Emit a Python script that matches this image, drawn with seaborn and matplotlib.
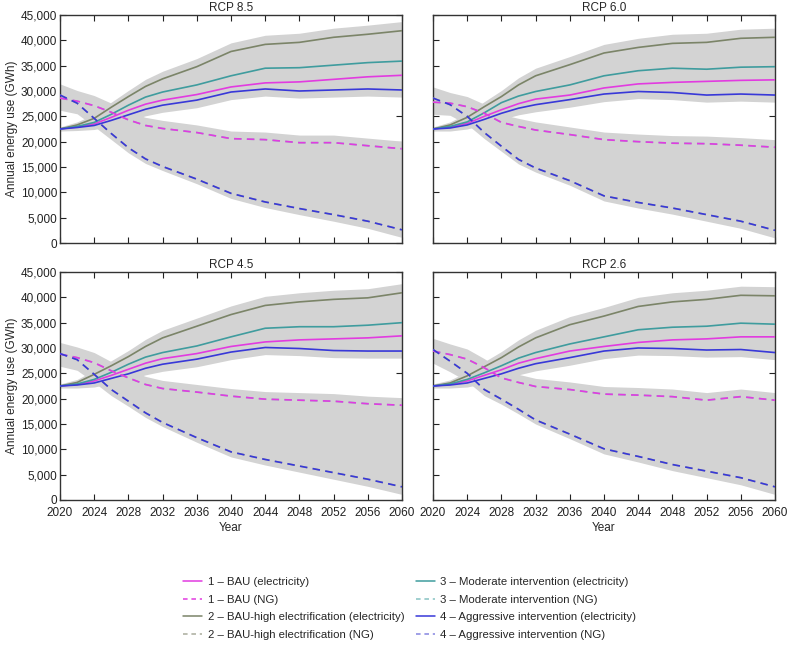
import numpy as np
import pandas as pd
import matplotlib
matplotlib.use("Agg")
import matplotlib.pyplot as plt
from matplotlib.ticker import FuncFormatter, MultipleLocator
from matplotlib.lines import Line2D
import seaborn as sns

# ---------------- data (GWh, thousands) ----------------
years = [2020, 2022, 2024, 2026, 2028, 2030, 2032, 2036, 2040, 2044, 2048, 2052, 2056, 2060]
panels = ["RCP 8.5", "RCP 6.0", "RCP 4.5", "RCP 2.6"]

# RCP 8.5
r85_bau_el  = [22.5, 22.9, 23.5, 24.8, 26.2, 27.4, 28.2, 29.3, 30.8, 31.6, 31.8, 32.3, 32.8, 33.1]
r85_high_el = [22.5, 23.3, 24.6, 26.8, 28.9, 30.9, 32.4, 34.8, 37.8, 39.2, 39.6, 40.6, 41.2, 41.9]
r85_mod_el  = [22.5, 23.0, 23.8, 25.4, 27.2, 28.8, 29.8, 31.2, 33.0, 34.5, 34.6, 35.1, 35.6, 35.9]
r85_agg_el  = [22.5, 22.8, 23.2, 24.2, 25.3, 26.4, 27.2, 28.2, 29.8, 30.4, 30.0, 30.2, 30.4, 30.2]
r85_bau_ng  = [28.6, 28.0, 27.1, 25.8, 24.3, 23.2, 22.6, 21.8, 20.6, 20.4, 19.8, 19.8, 19.2, 18.6]
r85_agg_ng  = [29.2, 27.6, 24.6, 21.6, 18.8, 16.6, 15.1, 12.6, 9.8, 8.1, 6.8, 5.6, 4.3, 2.6]

# RCP 6.0
r60_bau_el  = [22.5, 22.9, 23.6, 25.0, 26.3, 27.5, 28.4, 29.2, 30.6, 31.4, 31.7, 31.9, 32.1, 32.2]
r60_high_el = [22.5, 23.3, 24.8, 26.9, 28.9, 31.2, 33.0, 35.2, 37.5, 38.6, 39.4, 39.6, 40.4, 40.6]
r60_mod_el  = [22.5, 23.0, 23.9, 25.7, 27.7, 29.0, 29.9, 31.2, 33.0, 34.0, 34.5, 34.3, 34.7, 34.8]
r60_agg_el  = [22.5, 22.7, 23.3, 24.4, 25.6, 26.6, 27.3, 28.3, 29.4, 29.9, 29.7, 29.2, 29.4, 29.2]
r60_bau_ng  = [27.8, 27.6, 26.9, 25.6, 23.8, 23.0, 22.3, 21.4, 20.4, 20.0, 19.7, 19.6, 19.3, 18.9]
r60_agg_ng  = [28.6, 27.3, 25.0, 21.8, 19.1, 16.5, 14.8, 12.3, 9.3, 8.0, 6.9, 5.6, 4.3, 2.5]

# RCP 4.5
r45_bau_el  = [22.5, 22.8, 23.5, 24.6, 25.8, 27.0, 27.9, 28.9, 30.3, 31.2, 31.6, 31.8, 32.0, 32.4]
r45_high_el = [22.5, 23.2, 24.8, 26.5, 28.3, 30.3, 32.0, 34.3, 36.6, 38.4, 39.1, 39.6, 39.9, 40.9]
r45_mod_el  = [22.5, 22.9, 23.8, 25.2, 26.8, 28.2, 29.1, 30.4, 32.2, 33.9, 34.2, 34.2, 34.5, 35.0]
r45_agg_el  = [22.5, 22.7, 23.1, 24.0, 24.9, 26.0, 26.8, 27.8, 29.2, 30.1, 29.9, 29.5, 29.4, 29.4]
r45_bau_ng  = [28.8, 28.1, 27.1, 25.5, 24.1, 22.8, 22.0, 21.3, 20.5, 19.9, 19.7, 19.5, 19.0, 18.7]
r45_agg_ng  = [28.9, 27.7, 24.8, 21.8, 19.5, 17.2, 15.3, 12.3, 9.5, 8.0, 6.7, 5.4, 4.1, 2.6]

# RCP 2.6
r26_bau_el  = [22.5, 22.8, 23.5, 24.6, 25.7, 27.0, 27.9, 29.4, 30.3, 31.1, 31.6, 31.8, 32.2, 32.2]
r26_high_el = [22.5, 23.1, 24.5, 26.3, 28.1, 30.2, 32.0, 34.6, 36.3, 38.2, 39.1, 39.6, 40.4, 40.3]
r26_mod_el  = [22.5, 22.9, 23.8, 25.1, 26.5, 28.0, 29.1, 30.8, 32.2, 33.6, 34.1, 34.3, 34.9, 34.7]
r26_agg_el  = [22.5, 22.7, 23.1, 24.0, 24.9, 26.0, 26.9, 28.1, 29.4, 30.0, 29.9, 29.6, 29.7, 29.1]
r26_bau_ng  = [29.4, 28.7, 27.8, 26.1, 24.1, 23.2, 22.4, 21.8, 20.9, 20.7, 20.4, 19.7, 20.4, 19.7]
r26_agg_ng  = [29.7, 27.4, 25.0, 21.8, 19.9, 17.9, 15.8, 13.0, 10.1, 8.6, 7.0, 5.7, 4.4, 2.6]

# uncertainty band margins around the scenario envelopes (thousand GWh)
el_pad_low  = [0.4, 0.6, 0.8, 1.0, 1.2, 1.3, 1.4, 1.5, 1.5, 1.4, 1.4, 1.4, 1.4, 1.4]
el_pad_high = [0.4, 0.6, 0.8, 1.0, 1.2, 1.4, 1.5, 1.6, 1.7, 1.8, 1.8, 1.8, 1.8, 1.8]
ng_pad_low  = [2.4, 2.1, 1.6, 1.2, 1.0, 0.9, 0.8, 0.9, 1.0, 1.1, 1.2, 1.3, 1.4, 1.5]
ng_pad_high = [2.2, 2.1, 2.0, 1.8, 1.6, 1.6, 1.6, 1.5, 1.5, 1.5, 1.5, 1.5, 1.5, 1.5]

scenario_labels = [
    "1 – BAU (electricity)", "1 – BAU (NG)",
    "2 – BAU-high electrification (electricity)", "2 – BAU-high electrification (NG)",
    "3 – Moderate intervention (electricity)", "3 – Moderate intervention (NG)",
    "4 – Aggressive intervention (electricity)", "4 – Aggressive intervention (NG)",
]

panel_data = {
    "RCP 8.5": dict(bau_el=r85_bau_el, high_el=r85_high_el, mod_el=r85_mod_el, agg_el=r85_agg_el,
                    bau_ng=r85_bau_ng, agg_ng=r85_agg_ng),
    "RCP 6.0": dict(bau_el=r60_bau_el, high_el=r60_high_el, mod_el=r60_mod_el, agg_el=r60_agg_el,
                    bau_ng=r60_bau_ng, agg_ng=r60_agg_ng),
    "RCP 4.5": dict(bau_el=r45_bau_el, high_el=r45_high_el, mod_el=r45_mod_el, agg_el=r45_agg_el,
                    bau_ng=r45_bau_ng, agg_ng=r45_agg_ng),
    "RCP 2.6": dict(bau_el=r26_bau_el, high_el=r26_high_el, mod_el=r26_mod_el, agg_el=r26_agg_el,
                    bau_ng=r26_bau_ng, agg_ng=r26_agg_ng),
}

# ---------------- style ----------------
sns.set_theme(style="ticks")
plt.rcParams["font.family"] = ["Liberation Sans", "DejaVu Sans"]
plt.rcParams["axes.edgecolor"] = "#333333"
plt.rcParams["axes.linewidth"] = 1.0

C_PINK = "#e23be0"
C_OLIVE = "#7b8468"
C_TEAL = "#3f9c9e"
C_BLUE = "#3838d8"
C_BAND = "#d3d3d3"
DASH = (4.5, 3.2)
LW = 1.2

series_style = [
    # key, color, dashed
    ("high_ng", "#a9ac9c", True),
    ("mod_ng", "#86c2c2", True),
    ("bau_el", C_PINK, False),
    ("high_el", C_OLIVE, False),
    ("mod_el", C_TEAL, False),
    ("agg_el", C_BLUE, False),
    ("bau_ng", C_PINK, True),
    ("agg_ng", C_BLUE, True),
]

fig = plt.figure(figsize=(7.88, 6.46), dpi=100)
W, H = 788, 646
boxes = [(60, 15), (433, 15), (60, 272), (433, 272)]
aw, ah = 342, 228

yr = np.array(years)
for i, name in enumerate(panels):
    x0, y0 = boxes[i]
    ax = fig.add_axes([x0 / W, 1 - (y0 + ah) / H, aw / W, ah / H])
    d = panel_data[name]
    el = np.array([d["bau_el"], d["high_el"], d["mod_el"], d["agg_el"]]) * 1000
    ng = np.array([d["bau_ng"], d["agg_ng"]]) * 1000
    ax.fill_between(yr, el.min(0) - np.array(el_pad_low) * 1000,
                    el.max(0) + np.array(el_pad_high) * 1000, color=C_BAND, lw=0, zorder=1)
    ax.fill_between(yr, ng.min(0) - np.array(ng_pad_low) * 1000,
                    ng.max(0) + np.array(ng_pad_high) * 1000, color=C_BAND, lw=0, zorder=1)

    # NG series of scenarios 2 and 3 coincide with the plotted NG curves (hidden underneath)
    vals = dict(d)
    vals["high_ng"] = d["agg_ng"]
    vals["mod_ng"] = d["bau_ng"]
    for key, col, dashed in series_style:
        df = pd.DataFrame({"Year": years, "v": np.array(vals[key]) * 1000})
        sns.lineplot(data=df, x="Year", y="v", ax=ax, color=col, lw=LW,
                     dashes=False, zorder=3)
        if dashed:
            ax.lines[-1].set_dashes(DASH)

    ax.set_xlim(2020, 2060)
    ax.set_ylim(0, 45000)
    ax.xaxis.set_major_locator(MultipleLocator(4))
    ax.yaxis.set_major_locator(MultipleLocator(5000))
    ax.yaxis.set_major_formatter(FuncFormatter(lambda v, p: f"{int(v):,}"))
    ax.tick_params(direction="in", top=True, right=True, length=4, width=0.8,
                   labelsize=8.5, colors="#222222")
    ax.tick_params(axis="y", pad=2)
    ax.tick_params(axis="x", pad=5)
    ax.set_title(name, fontsize=8.5, pad=3)
    if i % 2 == 0:
        ax.set_ylabel("Annual energy use (GWh)", fontsize=8.5, labelpad=2)
    else:
        ax.set_ylabel("")
        ax.tick_params(labelleft=False)
    if i >= 2:
        ax.set_xlabel("Year", fontsize=8.5, labelpad=2)
    else:
        ax.set_xlabel("")
        ax.tick_params(labelbottom=False)
    for s in ax.spines.values():
        s.set_visible(True)

# ---------------- legend ----------------
leg_colors = [C_PINK, C_PINK, C_OLIVE, "#a9ac9c", C_TEAL, "#86c2c2", C_BLUE, "#8585e0"]
handles = []
for k, lab in enumerate(scenario_labels):
    h = Line2D([0], [0], color=leg_colors[k], lw=1.1)
    if k % 2 == 1:
        h.set_dashes((3, 2.5))
    handles.append(h)
fig.legend(handles, scenario_labels, ncol=2, frameon=False, fontsize=8.2,
           loc="upper left", bbox_to_anchor=(173 / W, 1 - 567 / H),
           handlelength=1.65, handletextpad=0.5, columnspacing=1.0,
           labelspacing=0.66)

fig.savefig("out.png", dpi=100)
